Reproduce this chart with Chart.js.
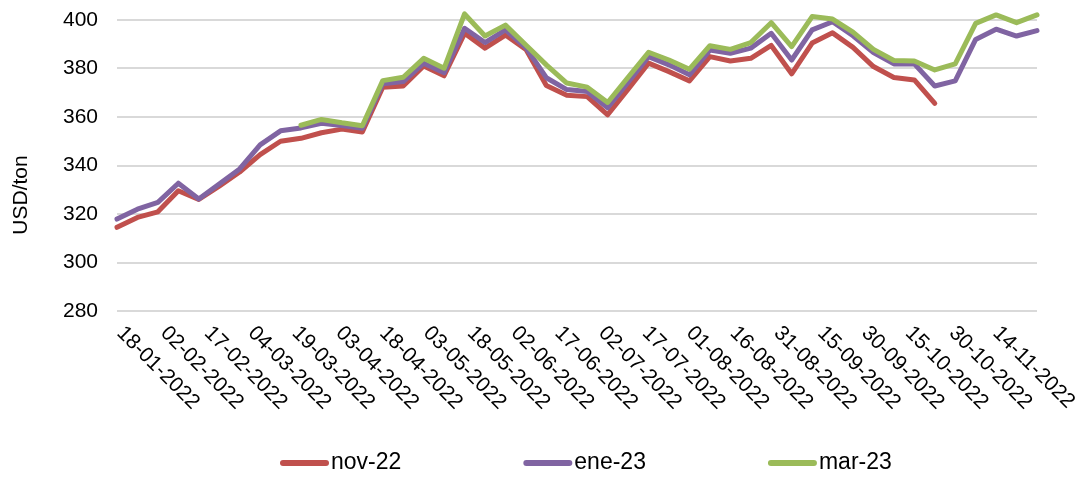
<!DOCTYPE html>
<html lang="es">
<head>
<meta charset="utf-8">
<title>Precios futuros USD/ton</title>
<script src="https://cdn.jsdelivr.net/npm/chart.js@4.4.1/dist/chart.umd.min.js"></script>
<style>
  html, body { margin: 0; padding: 0; background: #fff; }
  .chart { width: 1091px; height: 481px; }
</style>
</head>
<body>
<div class="chart">
  <canvas id="preciosChart" width="1091" height="481"></canvas>
</div>
<script>
// semanas (martes) de la serie
const fechas = [
  '18-01-2022', '25-01-2022', '01-02-2022', '08-02-2022', '15-02-2022', '22-02-2022',
  '01-03-2022', '08-03-2022', '15-03-2022', '22-03-2022', '29-03-2022', '05-04-2022',
  '12-04-2022', '19-04-2022', '26-04-2022', '03-05-2022', '10-05-2022', '17-05-2022',
  '24-05-2022', '31-05-2022', '07-06-2022', '14-06-2022', '21-06-2022', '28-06-2022',
  '05-07-2022', '12-07-2022', '19-07-2022', '26-07-2022', '02-08-2022', '09-08-2022',
  '16-08-2022', '23-08-2022', '30-08-2022', '06-09-2022', '13-09-2022', '20-09-2022',
  '27-09-2022', '04-10-2022', '11-10-2022', '18-10-2022', '25-10-2022', '01-11-2022',
  '08-11-2022', '15-11-2022', '22-11-2022', '29-11-2022',
];

// etiquetas del eje X, cada 15 dias
const etiquetasX = [
  '18-01-2022', '02-02-2022', '17-02-2022', '04-03-2022', '19-03-2022', '03-04-2022',
  '18-04-2022', '03-05-2022', '18-05-2022', '02-06-2022', '17-06-2022', '02-07-2022',
  '17-07-2022', '01-08-2022', '16-08-2022', '31-08-2022', '15-09-2022', '30-09-2022',
  '15-10-2022', '30-10-2022', '14-11-2022',
];

const nov22 = [
  314.5, 318.6, 320.9, 329.6, 326.0, 331.5, 337.3, 344.5, 350.0, 351.2,
  353.5, 355.0, 353.8, 372.3, 372.8, 381.0, 377.0, 394.5, 388.4, 393.8,
  387.9, 373.0, 369.0, 368.4, 360.9, 371.5, 382.2, 378.7, 374.9, 384.9,
  383.1, 384.2, 389.5, 377.8, 390.5, 394.7, 388.7, 380.8, 376.3, 375.3,
  365.6,
];

const ene23 = [
  317.9, 322.0, 324.8, 332.7, 326.2, 332.4, 338.6, 348.5, 354.3, 355.5,
  357.4, 356.5, 355.4, 373.7, 374.6, 382.2, 378.3, 396.6, 390.7, 395.9,
  388.6, 376.2, 371.3, 370.5, 363.8, 374.4, 384.9, 381.5, 377.4, 387.6,
  386.3, 388.4, 394.5, 383.5, 395.9, 399.3, 393.5, 386.6, 381.9, 381.9,
  372.8, 374.9, 392.0, 396.2, 393.4, 395.6,
];

const mar23 = [
  null, null, null, null, null, null, null, null, null, 356.6,
  359.0, 357.6, 356.4, 375.0, 376.4, 384.2, 380.1, 402.5, 393.4, 397.9,
  389.7, 381.5, 374.0, 372.3, 366.0, 376.4, 386.7, 383.5, 379.7, 389.4,
  387.9, 390.7, 398.9, 389.0, 401.4, 400.4, 395.0, 387.9, 383.3, 383.1,
  379.4, 381.9, 398.6, 402.1, 398.9, 402.1,
];

const yTicks = [280, 300, 320, 340, 360, 380, 400];

const FUENTE = 'Arial, "Liberation Sans", sans-serif';

// dias desde la primera semana, para usar un eje lineal
const diaDe = (s) => {
  const [d, m, y] = s.split('-').map(Number);
  const [d0, m0, y0] = fechas[0].split('-').map(Number);
  return (Date.UTC(y, m - 1, d) - Date.UTC(y0, m0 - 1, d0)) / 86400000;
};

const serie = (valores) => valores
  .map((v, i) => ({ x: diaDe(fechas[i]), y: v }))
  .filter((p) => p.y !== null);

// etiquetas inclinadas, titulo del eje Y y leyenda
const extrasPlugin = {
  id: 'extras',
  afterDraw(chart) {
    const { ctx } = chart;
    const xScale = chart.scales.x;

    ctx.save();
    ctx.fillStyle = '#000';

    ctx.font = `21px ${FUENTE}`;
    ctx.textAlign = 'left';
    ctx.textBaseline = 'middle';
    etiquetasX.forEach((txt) => {
      const px = xScale.getPixelForValue(diaDe(txt));
      ctx.save();
      ctx.translate(px + 3, 330);
      ctx.rotate(Math.PI / 4);
      ctx.fillText(txt, 0, 0);
      ctx.restore();
    });

    ctx.save();
    ctx.font = `21px ${FUENTE}`;
    ctx.translate(21, 195);
    ctx.rotate(-Math.PI / 2);
    ctx.textAlign = 'center';
    ctx.fillText('USD/ton', 0, 0);
    ctx.restore();

    ctx.font = `23px ${FUENTE}`;
    ctx.textAlign = 'left';
    ctx.lineCap = 'round';
    let lx = 280;
    const ly = 463;
    chart.data.datasets.forEach((ds) => {
      ctx.strokeStyle = ds.borderColor;
      ctx.lineWidth = 6;
      ctx.beginPath();
      ctx.moveTo(lx + 3, ly);
      ctx.lineTo(lx + 46, ly);
      ctx.stroke();
      ctx.fillText(ds.label, lx + 51, ly);
      lx += 51 + ctx.measureText(ds.label).width + 122;
    });
    ctx.restore();
  },
};

const lineStyle = {
  borderWidth: 5,
  pointRadius: 0,
  pointHoverRadius: 0,
  tension: 0,
  borderJoinStyle: 'round',
  borderCapStyle: 'round',
  clip: false,
};

const ctx = document.getElementById('preciosChart').getContext('2d');
const preciosChart = new Chart(ctx, {
  type: 'line',
  data: {
    datasets: [
      { label: 'nov-22', data: serie(nov22), borderColor: '#C0504D', order: 3, ...lineStyle },
      { label: 'ene-23', data: serie(ene23), borderColor: '#8064A2', order: 2, ...lineStyle },
      { label: 'mar-23', data: serie(mar23), borderColor: '#9BBB59', order: 1, ...lineStyle },
    ],
  },
  options: {
    responsive: false,
    animation: false,
    layout: {
      padding: { top: 20, right: 54, bottom: 170, left: 0 },
    },
    scales: {
      x: {
        type: 'linear',
        display: false,
        min: diaDe(fechas[0]),
        max: diaDe(fechas[fechas.length - 1]),
      },
      y: {
        min: yTicks[0],
        max: yTicks[yTicks.length - 1],
        afterFit: (scale) => {
          // ancho fijo del eje y sin relleno extra arriba/abajo
          scale.width = 117;
          scale.paddingTop = 0;
          scale.paddingBottom = 0;
        },
        afterBuildTicks: (scale) => { scale.ticks = yTicks.map((v) => ({ value: v })); },
        border: { display: false },
        grid: { color: '#D9D9D9', lineWidth: 2, drawTicks: false },
        ticks: {
          padding: 19,
          color: '#000',
          font: { family: FUENTE, size: 21 },
        },
      },
    },
    plugins: {
      legend: { display: false },
      tooltip: { enabled: false },
    },
  },
  plugins: [extrasPlugin],
});
</script>
</body>
</html>
